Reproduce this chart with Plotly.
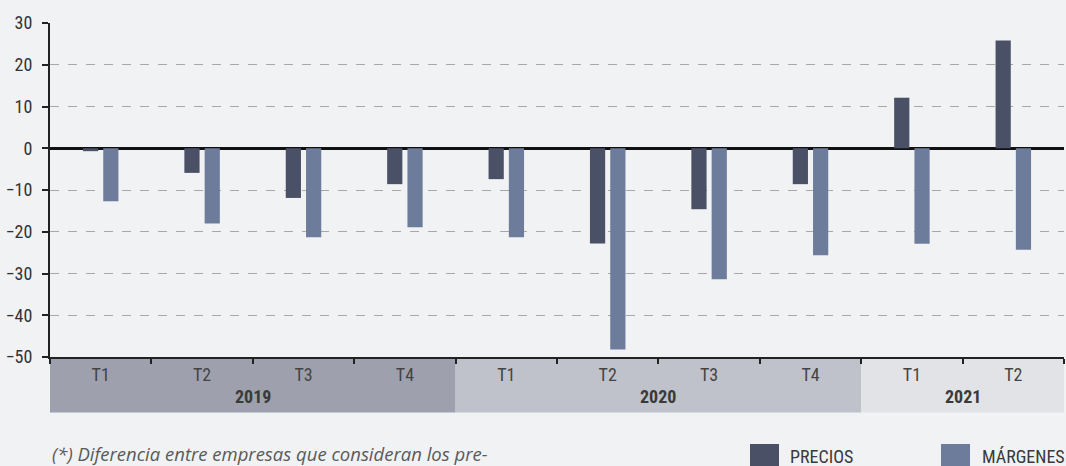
import plotly.graph_objects as go

# data
years = ["2019"] * 4 + ["2020"] * 4 + ["2021"] * 2
quarters = ["T1", "T2", "T3", "T4", "T1", "T2", "T3", "T4", "T1", "T2"]
precios = [-0.7, -5.9, -11.9, -8.6, -7.4, -22.8, -14.6, -8.6, 12.1, 25.8]
margenes = [-12.7, -18.0, -21.3, -18.9, -21.3, -48.2, -31.4, -25.6, -22.9, -24.3]
year_labels = ["2019", "2020", "2021"]
y_ticks = [30, 20, 10, 0, -10, -20, -30, -40, -50]
series_names = ["PRECIOS", "MÁRGENES"]
footnote = "(*) Diferencia entre empresas que consideran los pre-"

BG = "#f1f2f4"
DARK = "#4a5166"
LIGHT = "#6e7c9b"
BAND_COLORS = ["#9ea1ad", "#bfc2ca", "#e1e3e6"]
FONT = "Roboto Condensed, Liberation Sans Narrow, Roboto, sans-serif"

W, H = 1066, 466
M_L, M_R, M_T, M_B = 50, 2, 23, 109
PLOT_W = W - M_L - M_R
PLOT_H = H - M_T - M_B


def px_x(px):
    return (px - M_L) / PLOT_W


def px_y(py):
    return (H - M_B - py) / PLOT_H


cats = [f"{y} {q}" for y, q in zip(years, quarters)]

fig = go.Figure()
fig.add_trace(go.Bar(x=cats, y=precios, name=series_names[0], marker_color=DARK,
                     marker_line_width=0, showlegend=False))
fig.add_trace(go.Bar(x=cats, y=margenes, name=series_names[1], marker_color=LIGHT,
                     marker_line_width=0, showlegend=False))

shapes = []
annotations = []
for yl, col in zip(year_labels, BAND_COLORS):
    idx = [i for i, y in enumerate(years) if y == yl]
    shapes.append(dict(type="rect", xref="x", yref="paper", x0=idx[0] - 0.5, x1=idx[-1] + 0.5,
                       y0=px_y(412.5), y1=0, fillcolor=col, line_width=0, layer="below"))
    annotations.append(dict(x=(idx[0] + idx[-1]) / 2, y=px_y(396), xref="x", yref="paper",
                            text=f"<b>{yl}</b>", showarrow=False, yanchor="middle",
                            font=dict(family=FONT, size=18, color="#3a3a3a")))

# legend drawn by hand to match the large clipped swatches
for name, col, sx, tx in zip(series_names, [DARK, LIGHT], [750, 941], [788, 980]):
    shapes.append(dict(type="rect", xref="paper", yref="paper", x0=px_x(sx), x1=px_x(sx + 29),
                       y0=px_y(472), y1=px_y(444), fillcolor=col, line_width=0))
    annotations.append(dict(x=px_x(tx), y=px_y(456), xref="paper", yref="paper", text=name,
                            showarrow=False, xanchor="left", yanchor="middle",
                            font=dict(family=FONT, size=18, color="#3a3a3a")))

annotations.append(dict(x=0, y=px_y(453), xref="paper", yref="paper", text=footnote,
                        showarrow=False, xanchor="left", yanchor="middle",
                        font=dict(family="Open Sans, sans-serif", size=18.5, color="#5a5a5a",
                                  style="italic")))

fig.update_layout(
    width=W, height=H,
    margin=dict(l=M_L, r=M_R, t=M_T, b=M_B, pad=0),
    paper_bgcolor=BG, plot_bgcolor=BG,
    barmode="group", bargap=0.6, bargroupgap=0.25,
    font=dict(family=FONT, size=18, color="#3a3a3a"),
    shapes=shapes, annotations=annotations,
    xaxis=dict(type="category", tickvals=cats, ticktext=quarters, tickson="boundaries",
               ticks="outside", ticklen=5, tickwidth=1.5, tickcolor="#222",
               showline=True, linecolor="#222", linewidth=2, showgrid=False,
               range=[-0.5, len(cats) - 0.5], tickfont=dict(size=18, color="#444")),
    yaxis=dict(range=[-50, 30], tickvals=y_ticks, ticks="outside", ticklen=6, tickwidth=1.5,
               tickcolor="#222", showline=True, linecolor="#222", linewidth=2,
               gridcolor="#a8a8a8", griddash="dash", gridwidth=1,
               zeroline=True, zerolinecolor="#111", zerolinewidth=2.5,
               ticklabelstandoff=6, tickfont=dict(size=18, color="#333")),
)

fig.write_html("out.html", config={"displayModeBar": False},
               post_script="document.body.style.margin='0';")
